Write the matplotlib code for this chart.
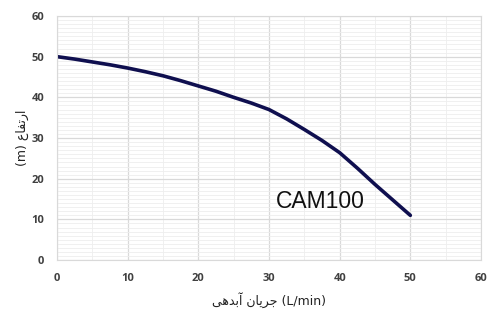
import matplotlib
matplotlib.use("Agg")
import matplotlib.pyplot as plt
from matplotlib.ticker import MultipleLocator

# data
flow = [0, 2.5, 5, 7.5, 10, 12.5, 15, 17.5, 20, 22.5, 25, 27.5, 30,
        32.5, 35, 37.5, 40, 42.5, 45, 47.5, 50]
head = [50, 49.4, 48.7, 48.0, 47.2, 46.3, 45.3, 44.1, 42.8, 41.5, 40.0, 38.6, 37.0,
        34.7, 32.1, 29.4, 26.4, 22.6, 18.6, 14.8, 11]
model = "CAM100"

# persian labels in shaped presentation forms, visual (left to right) order
x_label = "\uFEF0\uFEEB\uFEAA\uFE91\uFE81 \uFEE5\uFE8E\uFEF3\uFEAE\uFE9F (L/min)"
y_label = "(m) \uFEC9\uFE8E\uFED4\uFE97\uFEAD\uFE8D"

fig = plt.figure(figsize=(5, 3.13), dpi=100, facecolor="white")
ax = fig.add_axes([0.114, 0.169, 0.848, 0.78])

ax.plot(flow, head, color="#0f0f4f", linewidth=2.6,
        solid_capstyle="round", solid_joinstyle="round")

ax.set_xlim(0, 60)
ax.set_ylim(0, 60)
ax.xaxis.set_major_locator(MultipleLocator(10))
ax.xaxis.set_minor_locator(MultipleLocator(5))
ax.yaxis.set_major_locator(MultipleLocator(10))
ax.yaxis.set_minor_locator(MultipleLocator(1))

ax.grid(which="major", color="#d9d9d9", linewidth=0.9)
ax.grid(which="minor", color="#eeeeee", linewidth=0.6)
ax.set_axisbelow(True)

for s in ax.spines.values():
    s.set_color("#d9d9d9")

ax.tick_params(which="both", length=0, labelsize=8, labelcolor="#404040", pad=9)
for lab in ax.get_xticklabels() + ax.get_yticklabels():
    lab.set_fontweight("bold")
    lab.set_fontfamily("Open Sans")

ax.set_xlabel(x_label, fontsize=9, color="#222222", labelpad=6)
ax.set_ylabel(y_label, fontsize=9, color="#222222", labelpad=2)

ax.text(37.3, 14.4, model, fontsize=16.5, color="#111111", ha="center", va="center",
        family="Liberation Sans")

fig.savefig("out.png", dpi=100, facecolor="white")
